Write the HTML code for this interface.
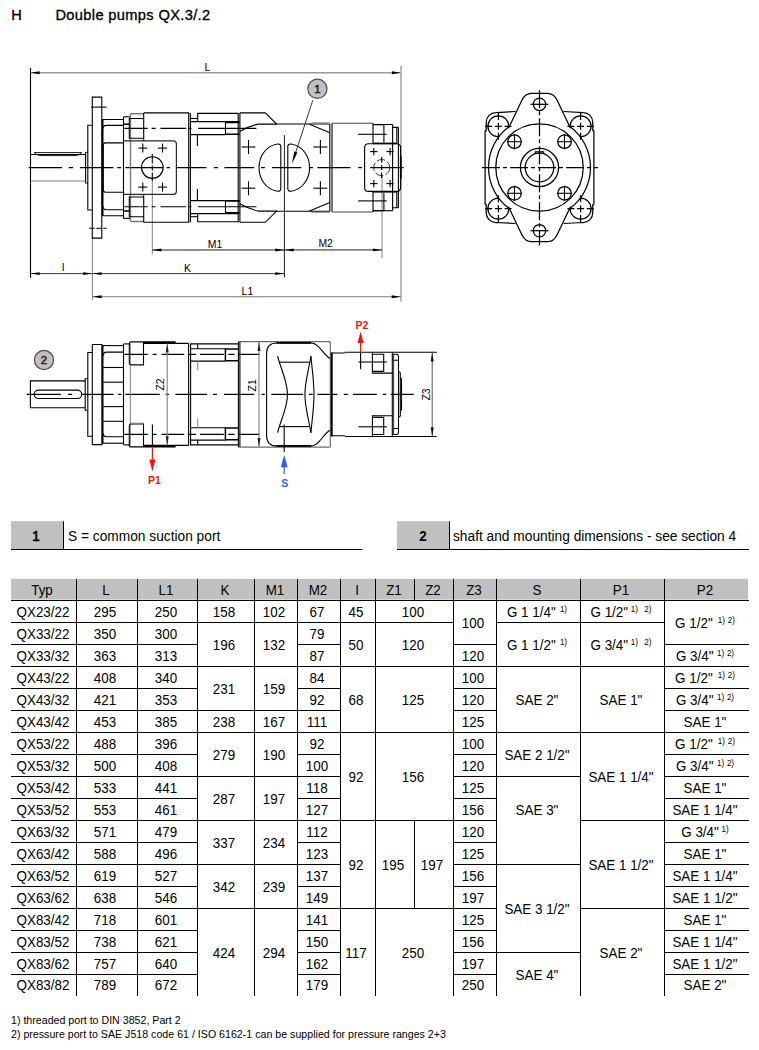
<!DOCTYPE html>
<html lang="en"><head><meta charset="utf-8"><title>Double pumps QX.3/.2</title>
<style>
html,body{margin:0;padding:0;background:#fff}
body{width:759px;height:1050px;position:relative;overflow:hidden;font-family:"Liberation Sans",sans-serif;color:#000}
#pg{position:absolute;left:0;top:0;width:759px;height:1050px}
svg{position:absolute;left:0;top:0}
svg text{font-family:"Liberation Sans",sans-serif}
.c{position:absolute;font-size:14.67px;line-height:16px;height:16px;text-align:center;white-space:nowrap;transform:scaleX(0.915);transform-origin:50% 50%}
.t{position:absolute;font-size:14.67px;line-height:16px;height:16px;white-space:nowrap;transform:scaleX(0.937);transform-origin:0 50%}
.h{transform:none;-webkit-text-stroke:0.32px #000;letter-spacing:0.34px}
.f{position:absolute;font-size:11px;line-height:13px;white-space:nowrap;transform:scaleX(0.967);transform-origin:0 50%}
sup{font-size:8.8px;line-height:0;vertical-align:baseline;position:relative;top:-4.4px}
.s1{margin-left:3px}.s2a{margin-left:7px}
.s1b{margin-left:3.8px}.s2b{margin-left:3px}.s1c{margin-left:5.6px}.s1s{margin-left:4.6px}
b{font-weight:bold}
.fb{-webkit-text-stroke:0.7px #000}
</style></head><body><div id="pg">
<svg width="759" height="1050" viewBox="0 0 759 1050" fill="none" stroke-linecap="butt">
<g id="topview">
<path d="M30.50 67.90L30.50 277.70" stroke="#000" stroke-width="1.1"/>
<path d="M401.00 66.00L401.00 301.60" stroke="#808080" stroke-width="1.1"/>
<path d="M31.00 72.80L400.50 72.80" stroke="#9a9a9a" stroke-width="1.4"/>
<path d="M30.60 72.80L39.60 71.35L39.60 74.25Z" fill="#000" stroke="none"/>
<path d="M400.90 72.80L391.90 74.25L391.90 71.35Z" fill="#000" stroke="none"/>
<text x="207.50" y="71.00" font-size="10.4" text-anchor="middle" fill="#000" font-weight="normal" stroke="none">L</text>
<path d="M152.30 178.40L152.30 254.30" stroke="#808080" stroke-width="1"/>
<path d="M382.00 176.00L382.00 257.90" stroke="#808080" stroke-width="1"/>
<path d="M284.40 135.00L284.40 277.70" stroke="#000" stroke-width="0.9"/>
<path d="M152.30 250.00L382.00 249.90" stroke="#222" stroke-width="1"/>
<path d="M152.40 250.00L161.40 248.55L161.40 251.45Z" fill="#000" stroke="none"/>
<path d="M284.20 250.00L275.20 251.45L275.20 248.55Z" fill="#000" stroke="none"/>
<path d="M284.60 250.00L293.60 248.55L293.60 251.45Z" fill="#000" stroke="none"/>
<path d="M381.90 249.90L372.90 251.35L372.90 248.45Z" fill="#000" stroke="none"/>
<text x="215.00" y="247.60" font-size="10.4" text-anchor="middle" fill="#000" font-weight="normal" stroke="none">M1</text>
<text x="325.60" y="246.80" font-size="10.4" text-anchor="middle" fill="#000" font-weight="normal" stroke="none">M2</text>
<path d="M30.50 273.60L284.40 273.60" stroke="#222" stroke-width="0.9"/>
<path d="M30.70 273.60L39.70 272.15L39.70 275.05Z" fill="#000" stroke="none"/>
<path d="M92.10 273.60L83.10 275.05L83.10 272.15Z" fill="#000" stroke="none"/>
<path d="M92.70 273.60L101.70 272.15L101.70 275.05Z" fill="#000" stroke="none"/>
<path d="M284.20 273.60L275.20 275.05L275.20 272.15Z" fill="#000" stroke="none"/>
<text x="63.20" y="271.30" font-size="10.4" text-anchor="middle" fill="#000" font-weight="normal" stroke="none">I</text>
<text x="187.40" y="271.50" font-size="10.4" text-anchor="middle" fill="#000" font-weight="normal" stroke="none">K</text>
<path d="M92.40 238.00L92.40 300.30" stroke="#808080" stroke-width="1"/>
<path d="M92.40 296.70L400.80 296.70" stroke="#777" stroke-width="1.1"/>
<path d="M92.60 296.70L101.60 295.25L101.60 298.15Z" fill="#000" stroke="none"/>
<path d="M400.70 296.70L391.70 298.15L391.70 295.25Z" fill="#000" stroke="none"/>
<text x="247.40" y="294.50" font-size="10.4" text-anchor="middle" fill="#000" font-weight="normal" stroke="none">L1</text>
<path d="M28.6 167.6H62 M68.8 167.6H73.1 M79.9 167.6H113.3 M117.3 167.6H121 M125.3 167.6H163.7 M166.6 167.6H170 M176.5 167.6H206.5 M213.8 167.6H218 M224.4 167.6H254.2 M261 167.6H264.9 M272.2 167.6H301.3 M308.8 167.6H313 M317.3 167.6H350.5 M358.2 167.6H362 M370.2 167.6H403.6" stroke="#000" stroke-width="1.1" fill="none"/>
<path d="M30.5 154.5H85.6" stroke="#000" stroke-width="1.1" fill="none"/>
<path d="M30.5 181H85.6" stroke="#808080" stroke-width="1.2" fill="none"/>
<path d="M34.2 152.6H81.7 M34.2 152.6Q36.5 155.6 41 155.6H75Q79.5 155.6 81.7 152.6" stroke="#000" stroke-width="0.9" fill="none"/>
<path d="M85.6 152.3V183.2" stroke="#000" stroke-width="1.1" fill="none"/>
<path d="M85.6 152.3H87.7 M85.6 183.2H87.7" stroke="#000" stroke-width="0.8" fill="none"/>
<path d="M92.3 125.3H87.8V210H92.3" stroke="#000" stroke-width="1.1" fill="none"/>
<path d="M92.3 97.1H101.8V238.1H92.3Z" stroke="#000" stroke-width="1.1" fill="none"/>
<path d="M91.00 107.10L106.60 107.10" stroke="#000" stroke-width="1.1"/>
<path d="M89.30 228.20L106.60 228.20" stroke="#000" stroke-width="1.1" stroke-dasharray="5.5 1.5"/>
<path d="M102.60 119.30L102.60 216.00" stroke="#000" stroke-width="1.8"/>
<path d="M103 119.5H123.5 M103 215.7H123.5" stroke="#000" stroke-width="1.1" fill="none"/>
<path d="M123.5 125.4H106Q103.2 125.4 103.2 128.6 M123.5 209.8H106Q103.2 209.8 103.2 206.6" stroke="#000" stroke-width="1.1" fill="none"/>
<path d="M123.5 142.9H105.6Q103.2 142.9 103.2 145.6V189.6Q103.2 192.3 105.6 192.3H123.5" stroke="#000" stroke-width="1.1" fill="none"/>
<path d="M123.50 116.80L123.50 218.40" stroke="#000" stroke-width="1.1"/>
<path d="M123.50 124.20L129.50 124.20" stroke="#000" stroke-width="1.5"/>
<path d="M123.50 211.00L129.50 211.00" stroke="#000" stroke-width="1.5"/>
<path d="M123.50 116.80L130.00 116.80" stroke="#000" stroke-width="1.1"/>
<path d="M123.50 218.40L130.00 218.40" stroke="#000" stroke-width="1.1"/>
<path d="M130.50 113.70L130.50 221.50" stroke="#777" stroke-width="1.4"/>
<path d="M130.50 113.70L143.70 113.70" stroke="#777" stroke-width="1.5"/>
<path d="M130.50 221.50L143.70 221.50" stroke="#777" stroke-width="1.5"/>
<path d="M143.7 118.5H129.3V138.2H143.7" stroke="#000" stroke-width="1.1" fill="none"/>
<path d="M143.7 216.7H129.3V197.0H143.7" stroke="#000" stroke-width="1.1" fill="none"/>
<path d="M143.70 112.90L189.10 112.90" stroke="#000" stroke-width="1.1"/>
<path d="M143.70 222.30L189.10 222.30" stroke="#000" stroke-width="1.1"/>
<path d="M143.70 112.90L143.70 140.90" stroke="#000" stroke-width="1.1"/>
<path d="M143.70 222.30L143.70 194.30" stroke="#000" stroke-width="1.1"/>
<path d="M123.5 140.9H173.4Q176.4 140.9 176.4 143.9V191.3Q176.4 194.3 173.4 194.3H123.5" stroke="#2a2a2a" stroke-width="1.2" fill="none"/>
<circle cx="152.30" cy="167.60" r="10.80" stroke="#000" stroke-width="1.1" fill="none"/>
<path d="M138.30 148.10L147.30 148.10" stroke="#000" stroke-width="1.1"/>
<path d="M142.80 143.60L142.80 152.60" stroke="#000" stroke-width="1.1"/>
<path d="M138.30 187.10L147.30 187.10" stroke="#000" stroke-width="1.1"/>
<path d="M142.80 182.60L142.80 191.60" stroke="#000" stroke-width="1.1"/>
<path d="M158.00 148.10L167.00 148.10" stroke="#000" stroke-width="1.1"/>
<path d="M162.50 143.60L162.50 152.60" stroke="#000" stroke-width="1.1"/>
<path d="M158.00 187.10L167.00 187.10" stroke="#000" stroke-width="1.1"/>
<path d="M162.50 182.60L162.50 191.60" stroke="#000" stroke-width="1.1"/>
<path d="M152.30 154.10L152.30 181.10" stroke="#000" stroke-width="1.1" stroke-dasharray="9.5 2 5 2 9"/>
<path d="M124.3 128.4H147.7 M151.6 128.4H155.6 M160.5 128.4H186.2 M189 128.4H191.5 M198 128.4H256.4" stroke="#000" stroke-width="1.1" fill="none"/>
<path d="M124.3 206.8H147.7 M151.6 206.8H155.6 M160.5 206.8H186.2 M189 206.8H191.5 M198 206.8H256.4" stroke="#000" stroke-width="1.1" fill="none"/>
<path d="M188.70 112.90L188.70 222.30" stroke="#000" stroke-width="1.1"/>
<path d="M190.40 112.90L190.40 222.30" stroke="#000" stroke-width="1.1"/>
<path d="M197.7 121.3V113.4H238.2" stroke="#000" stroke-width="1.1" fill="none"/>
<path d="M190.4 118.5H197.7" stroke="#000" stroke-width="1.1" fill="none"/>
<path d="M190.4 121.6H238.2 M190.4 134.6H225.5 M225.5 121.6V134.6" stroke="#000" stroke-width="1.1" fill="none"/>
<path d="M225.5 122.4H239.8 M225.5 134.3H239.8" stroke="#000" stroke-width="1.6" fill="none"/>
<path d="M197.40 134.60L197.40 146.10" stroke="#000" stroke-width="1.1"/>
<path d="M197.7 213.9V221.8H238.2" stroke="#000" stroke-width="1.1" fill="none"/>
<path d="M190.4 216.7H197.7" stroke="#000" stroke-width="1.1" fill="none"/>
<path d="M190.4 213.6H238.2 M190.4 200.6H225.5 M225.5 213.6V200.6" stroke="#000" stroke-width="1.1" fill="none"/>
<path d="M225.5 212.8H239.8 M225.5 200.9H239.8" stroke="#000" stroke-width="1.6" fill="none"/>
<path d="M197.40 200.60L197.40 189.10" stroke="#000" stroke-width="1.1"/>
<path d="M238.20 112.90L238.20 222.30" stroke="#000" stroke-width="1.1"/>
<path d="M239.90 112.90L239.90 222.30" stroke="#000" stroke-width="1.1"/>
<path d="M239.8 112.9H265.4L276.4 124.0H329.8" stroke="#000" stroke-width="1.1" fill="none"/>
<path d="M239.8 131.4Q249 126.1 258.5 124.1H277" stroke="#000" stroke-width="1.1" fill="none"/>
<path d="M309.5 124.3L329.8 132.7" stroke="#000" stroke-width="1.1" fill="none"/>
<path d="M311.4 122.9H329.8" stroke="#808080" stroke-width="1" fill="none"/>
<path d="M241.50 147.00L255.50 147.00" stroke="#000" stroke-width="1.1"/>
<path d="M248.50 140.00L248.50 154.00" stroke="#000" stroke-width="1.1"/>
<path d="M313.40 147.00L327.40 147.00" stroke="#000" stroke-width="1.1"/>
<path d="M320.40 140.00L320.40 154.00" stroke="#000" stroke-width="1.1"/>
<path d="M239.8 222.3H265.4L276.4 211.2H329.8" stroke="#000" stroke-width="1.1" fill="none"/>
<path d="M239.8 203.8Q249 209.1 258.5 211.1H277" stroke="#000" stroke-width="1.1" fill="none"/>
<path d="M309.5 210.9L329.8 202.5" stroke="#000" stroke-width="1.1" fill="none"/>
<path d="M311.4 212.3H329.8" stroke="#808080" stroke-width="1" fill="none"/>
<path d="M241.50 188.20L255.50 188.20" stroke="#000" stroke-width="1.1"/>
<path d="M248.50 181.20L248.50 195.20" stroke="#000" stroke-width="1.1"/>
<path d="M313.40 188.20L327.40 188.20" stroke="#000" stroke-width="1.1"/>
<path d="M320.40 181.20L320.40 195.20" stroke="#000" stroke-width="1.1"/>
<path d="M280.8 146.6Q280.8 143.6 277.3 144.0C265.5 146.1 259 156.6 259 167.6C259 178.6 265.5 189.1 277.3 191.2Q280.8 191.6 280.8 188.6Z" stroke="#000" stroke-width="1.1" fill="none"/>
<path d="M287.8 146.6Q287.8 143.6 291.3 144.0C303.1 146.1 309.6 156.6 309.6 167.6C309.6 178.6 303.1 189.1 291.3 191.2Q287.8 191.6 287.8 188.6Z" stroke="#000" stroke-width="1.1" fill="none"/>
<path d="M329.80 124.00L329.80 211.20" stroke="#000" stroke-width="1.1"/>
<path d="M332.00 123.20L332.00 212.00" stroke="#000" stroke-width="1.1"/>
<path d="M332.00 123.20L373.00 123.20" stroke="#444" stroke-width="1.1"/>
<path d="M332.00 212.00L373.00 212.00" stroke="#444" stroke-width="1.1"/>
<path d="M373 124.6H383.9V142.2 M373 123.2V143.6" stroke="#000" stroke-width="1.1" fill="none"/>
<path d="M358.10 134.30L386.80 134.30" stroke="#000" stroke-width="1.1"/>
<path d="M373 124.5H392.6" stroke="#000" stroke-width="1.1" fill="none"/>
<path d="M392.6 127.4H398.4 M396.8 127.4V143.6" stroke="#000" stroke-width="1.1" fill="none"/>
<path d="M373 210.6H383.9V193.0 M373 212.0V191.6" stroke="#000" stroke-width="1.1" fill="none"/>
<path d="M358.10 200.90L386.80 200.90" stroke="#000" stroke-width="1.1"/>
<path d="M373 210.7H392.6" stroke="#000" stroke-width="1.1" fill="none"/>
<path d="M392.6 207.8H398.4 M396.8 207.8V191.6" stroke="#000" stroke-width="1.1" fill="none"/>
<path d="M392.60 124.50L392.60 210.70" stroke="#000" stroke-width="1.1"/>
<path d="M398.40 127.40L398.40 207.80" stroke="#000" stroke-width="1.1"/>
<path d="M368.6 143.8H396.6Q400.6 143.8 400.6 147.8V187.4Q400.6 191.4 396.6 191.4H368.6Q364.6 191.4 364.6 187.4V147.8Q364.6 143.8 368.6 143.8Z" stroke="#000" stroke-width="1.1" fill="none"/>
<path d="M373.00 143.40L397.00 143.40" stroke="#000" stroke-width="1.6"/>
<path d="M373.00 191.80L397.00 191.80" stroke="#000" stroke-width="1.6"/>
<path d="M400.80 156.40L400.80 178.80" stroke="#000" stroke-width="1.8"/>
<path d="M370.10 151.60L377.50 151.60" stroke="#000" stroke-width="1.1"/>
<path d="M373.80 147.90L373.80 155.30" stroke="#000" stroke-width="1.1"/>
<path d="M370.10 183.60L377.50 183.60" stroke="#000" stroke-width="1.1"/>
<path d="M373.80 179.90L373.80 187.30" stroke="#000" stroke-width="1.1"/>
<path d="M386.40 151.60L393.80 151.60" stroke="#000" stroke-width="1.1"/>
<path d="M390.10 147.90L390.10 155.30" stroke="#000" stroke-width="1.1"/>
<path d="M386.40 183.60L393.80 183.60" stroke="#000" stroke-width="1.1"/>
<path d="M390.10 179.90L390.10 187.30" stroke="#000" stroke-width="1.1"/>
<circle cx="381.70" cy="167.60" r="8.05" stroke="#3a3a3a" stroke-width="1" fill="none" stroke-dasharray="8.5 2.4"/>
<path d="M381.70 157.10L381.70 178.10" stroke="#000" stroke-width="1.1" stroke-dasharray="5.7 2.3 5 2.3 5.7"/>
<circle cx="317.40" cy="88.80" r="9.60" stroke="#4d4d4d" stroke-width="1.2" fill="#c0c0c0"/>
<text x="317.40" y="92.90" font-size="11.5" text-anchor="middle" fill="#1a1a1a" font-weight="normal" stroke="#1a1a1a" stroke-width="0.45">1</text>
<path d="M312.80 100.20L294.50 156.00" stroke="#222" stroke-width="0.9"/>
<path d="M291.80 164.30L294.33 151.45L297.37 152.44Z" fill="#000" stroke="none"/>
</g>
<g id="endview">
<path d="M482.00 167.50L598.00 167.50" stroke="#000" stroke-width="1.25" stroke-dasharray="18 3 4 3"/>
<path d="M539.50 90.30L539.50 245.60" stroke="#000" stroke-width="1.25" stroke-dasharray="18 3 4 3"/>
<circle cx="539.50" cy="167.50" r="43.70" stroke="#000" stroke-width="1.25" fill="none"/>
<circle cx="539.50" cy="167.50" r="19.10" stroke="#000" stroke-width="1.25" fill="none"/>
<circle cx="539.50" cy="167.50" r="14.30" stroke="#000" stroke-width="1.25" fill="none"/>
<path d="M535.4 154V151.9H543.6V154" stroke="#000" stroke-width="1.25" fill="none"/>
<path d="M508.81 126.77A51 51 0 0 0 508.81 208.23" stroke="#000" stroke-width="1.25" fill="none"/>
<path d="M570.19 208.23A51 51 0 0 0 570.19 126.77" stroke="#000" stroke-width="1.25" fill="none"/>
<path d="M508.5 128.3L522.0 100.0Q525.3 93.3 531.5 93.3H547.5Q553.7 93.3 557.0 100.0L570.5 128.3" stroke="#000" stroke-width="1.25" fill="none"/>
<circle cx="539.50" cy="104.30" r="6.20" stroke="#000" stroke-width="1.25" fill="none"/>
<path d="M530.50 104.30L548.50 104.30" stroke="#000" stroke-width="1.25"/>
<path d="M515.5 111.5L495.8 112.5C490.5 112.5 486.2 117.0 486.2 122.4V130.5H485.1" stroke="#000" stroke-width="1.25" fill="none"/>
<path d="M498.21 136.85A10.5 10.5 0 1 1 508.90 126.17" stroke="#000" stroke-width="1.25" fill="none"/>
<path d="M485.20 126.35L511.60 126.35" stroke="#000" stroke-width="1.25" stroke-dasharray="7 2.7"/>
<path d="M498.40 112.95L498.40 139.75" stroke="#000" stroke-width="1.25" stroke-dasharray="7 2.9"/>
<circle cx="514.50" cy="141.70" r="6.75" stroke="#000" stroke-width="1.25" fill="none"/>
<path d="M506.90 141.70L522.10 141.70" stroke="#000" stroke-width="1.1"/>
<path d="M514.50 134.10L514.50 149.30" stroke="#000" stroke-width="1.1"/>
<path d="M563.5 111.5L583.2 112.5C588.5 112.5 592.8 117.0 592.8 122.4V130.5H593.9" stroke="#000" stroke-width="1.25" fill="none"/>
<path d="M570.10 126.17A10.5 10.5 0 1 1 580.79 136.85" stroke="#000" stroke-width="1.25" fill="none"/>
<path d="M567.40 126.35L593.80 126.35" stroke="#000" stroke-width="1.25" stroke-dasharray="7 2.7"/>
<path d="M580.60 112.95L580.60 139.75" stroke="#000" stroke-width="1.25" stroke-dasharray="7 2.9"/>
<circle cx="564.50" cy="141.70" r="6.75" stroke="#000" stroke-width="1.25" fill="none"/>
<path d="M556.90 141.70L572.10 141.70" stroke="#000" stroke-width="1.1"/>
<path d="M564.50 134.10L564.50 149.30" stroke="#000" stroke-width="1.1"/>
<path d="M508.5 206.7L522.0 235.0Q525.3 241.7 531.5 241.7H547.5Q553.7 241.7 557.0 235.0L570.5 206.7" stroke="#000" stroke-width="1.25" fill="none"/>
<circle cx="539.50" cy="230.70" r="6.20" stroke="#000" stroke-width="1.25" fill="none"/>
<path d="M530.50 230.70L548.50 230.70" stroke="#000" stroke-width="1.25"/>
<path d="M515.5 223.5L495.8 222.5C490.5 222.5 486.2 218.0 486.2 212.6V204.5H485.1" stroke="#000" stroke-width="1.25" fill="none"/>
<path d="M508.90 208.83A10.5 10.5 0 1 1 498.21 198.15" stroke="#000" stroke-width="1.25" fill="none"/>
<path d="M485.20 208.65L511.60 208.65" stroke="#000" stroke-width="1.25" stroke-dasharray="7 2.7"/>
<path d="M498.40 195.25L498.40 222.05" stroke="#000" stroke-width="1.25" stroke-dasharray="7 2.9"/>
<circle cx="514.50" cy="193.30" r="6.75" stroke="#000" stroke-width="1.25" fill="none"/>
<path d="M506.90 193.30L522.10 193.30" stroke="#000" stroke-width="1.1"/>
<path d="M514.50 185.70L514.50 200.90" stroke="#000" stroke-width="1.1"/>
<path d="M563.5 223.5L583.2 222.5C588.5 222.5 592.8 218.0 592.8 212.6V204.5H593.9" stroke="#000" stroke-width="1.25" fill="none"/>
<path d="M580.79 198.15A10.5 10.5 0 1 1 570.10 208.83" stroke="#000" stroke-width="1.25" fill="none"/>
<path d="M567.40 208.65L593.80 208.65" stroke="#000" stroke-width="1.25" stroke-dasharray="7 2.7"/>
<path d="M580.60 195.25L580.60 222.05" stroke="#000" stroke-width="1.25" stroke-dasharray="7 2.9"/>
<circle cx="564.50" cy="193.30" r="6.75" stroke="#000" stroke-width="1.25" fill="none"/>
<path d="M556.90 193.30L572.10 193.30" stroke="#000" stroke-width="1.1"/>
<path d="M564.50 185.70L564.50 200.90" stroke="#000" stroke-width="1.1"/>
<path d="M485.10 130.50L485.10 204.50" stroke="#000" stroke-width="1.25"/>
<path d="M593.90 130.50L593.90 204.50" stroke="#000" stroke-width="1.25"/>
</g>
<g id="sideview">
<path d="M26.6 394.4H60.8 M68 394.4H72.2 M81.9 394.4H113.5 M118 394.4H121.4 M125.4 394.4H159.7 M165.7 394.4H168.9 M175.5 394.4H207 M213 394.4H217 M224 394.4H254.3 M261.6 394.4H264.8 M271.4 394.4H303 M309 394.4H312.8 M317.5 394.4H337.3 M343.8 394.4H347.8 M353 394.4H376.8 M382.6 394.4H386 M390.7 394.4H413.7" stroke="#000" stroke-width="1.1" fill="none"/>
<circle cx="44.00" cy="360.00" r="9.60" stroke="#4d4d4d" stroke-width="1.2" fill="#c0c0c0"/>
<text x="44.00" y="364.20" font-size="11.5" text-anchor="middle" fill="#1a1a1a" font-weight="normal" stroke="#1a1a1a" stroke-width="0.45">2</text>
<path d="M85.1 380.9H30.4V407.8H85.1" stroke="#000" stroke-width="1.1" fill="none"/>
<path d="M38.4 390.1H77.5A4.2 4.2 0 0 1 77.5 398.5H38.4A4.2 4.2 0 0 1 38.4 390.1Z" stroke="#000" stroke-width="1.1" fill="none"/>
<path d="M87.2 378.7H85.2V410.3H87.2" stroke="#000" stroke-width="1.1" fill="none"/>
<path d="M92.3 352.5H87.8V436.2H92.3" stroke="#000" stroke-width="1.1" fill="none"/>
<path d="M92.3 344.5H101.9V444.6H92.3Z" stroke="#000" stroke-width="1.1" fill="none"/>
<path d="M102.70 345.00L102.70 443.60" stroke="#000" stroke-width="1.6"/>
<path d="M103.00 345.60L123.60 345.60" stroke="#000" stroke-width="1.1"/>
<path d="M103.00 443.20L123.60 443.20" stroke="#000" stroke-width="1.1"/>
<path d="M123.6 352.1H106.5Q103.4 352.1 103.4 355.4" stroke="#000" stroke-width="1.1" fill="none"/>
<path d="M123.6 436.7H106.5Q103.4 436.7 103.4 433.4" stroke="#000" stroke-width="1.1" fill="none"/>
<path d="M103.00 367.50L123.60 367.50" stroke="#000" stroke-width="1.1"/>
<path d="M103.00 421.30L123.60 421.30" stroke="#000" stroke-width="1.1"/>
<path d="M103.00 382.20L123.60 382.20" stroke="#000" stroke-width="1.1"/>
<path d="M103.00 406.60L123.60 406.60" stroke="#000" stroke-width="1.1"/>
<path d="M123.50 343.90L123.50 444.90" stroke="#000" stroke-width="1.1"/>
<path d="M123.50 343.90L130.00 343.90" stroke="#000" stroke-width="1.1"/>
<path d="M123.50 444.90L130.00 444.90" stroke="#000" stroke-width="1.1"/>
<path d="M130.30 343.90L130.30 444.90" stroke="#808080" stroke-width="1"/>
<path d="M143.5 364.8H131Q129.3 364.8 129.3 362.9V343.9Q129.3 341.9 131.3 341.9H143.5" stroke="#000" stroke-width="1.1" fill="none"/>
<path d="M143.5 424.0H131Q129.3 424.0 129.3 425.9V444.9Q129.3 446.9 131.3 446.9H143.5" stroke="#000" stroke-width="1.1" fill="none"/>
<path d="M131.00 365.60L143.50 365.60" stroke="#808080" stroke-width="1"/>
<path d="M131.00 423.20L143.50 423.20" stroke="#808080" stroke-width="1"/>
<path d="M143.50 341.90L143.50 365.20" stroke="#000" stroke-width="1.1"/>
<path d="M143.50 446.90L143.50 423.60" stroke="#000" stroke-width="1.1"/>
<path d="M143.50 343.40L188.60 343.40" stroke="#000" stroke-width="1.1"/>
<path d="M143.50 445.40L188.60 445.40" stroke="#000" stroke-width="1.1"/>
<path d="M143.20 342.10L175.60 342.10" stroke="#000" stroke-width="1.6"/>
<path d="M143.20 446.70L175.60 446.70" stroke="#000" stroke-width="1.6"/>
<path d="M124.3 354.4H147.7 M152.6 354.4H156.6 M161.5 354.4H184.2 M188.2 354.4H196 M200 354.4H223.8 M228.3 354.4H234.6 M238.6 354.4H259.5" stroke="#000" stroke-width="1.1" fill="none"/>
<path d="M124.3 434.4H147.7 M152.6 434.4H156.6 M161.5 434.4H184.2 M188.2 434.4H196 M200 434.4H223.8 M228.3 434.4H234.6 M238.6 434.4H259.5" stroke="#000" stroke-width="1.1" fill="none"/>
<path d="M167.20 343.40L167.20 445.40" stroke="#808080" stroke-width="1.1"/>
<path d="M167.20 343.60L168.70 352.60L165.70 352.60Z" fill="#222" stroke="none"/>
<path d="M167.20 445.20L165.70 436.20L168.70 436.20Z" fill="#222" stroke="none"/>
<text x="163.90" y="384.50" font-size="10.4" text-anchor="middle" fill="#000" font-weight="normal" stroke="none" transform="rotate(-90 163.90 384.50)">Z2</text>
<path d="M188.60 343.40L188.60 445.40" stroke="#000" stroke-width="1.1"/>
<path d="M190.60 343.40L190.60 445.40" stroke="#000" stroke-width="1.1"/>
<path d="M190.60 343.90L238.50 343.90" stroke="#000" stroke-width="1.1"/>
<path d="M190.60 444.90L238.50 444.90" stroke="#000" stroke-width="1.1"/>
<path d="M190.6 348.7H225.4 M190.6 361.1H225.4" stroke="#000" stroke-width="1.1" fill="none"/>
<path d="M190.6 440.1H225.4 M190.6 427.7H225.4" stroke="#000" stroke-width="1.1" fill="none"/>
<path d="M238.5 349.0H225.4V360.8H238.5" stroke="#000" stroke-width="1.5" fill="none"/>
<path d="M238.5 439.8H225.4V428.0H238.5" stroke="#000" stroke-width="1.5" fill="none"/>
<path d="M197.70 344.20L197.70 348.70" stroke="#000" stroke-width="1.1"/>
<path d="M197.70 444.60L197.70 440.10" stroke="#000" stroke-width="1.1"/>
<path d="M197.70 361.10L197.70 370.30" stroke="#808080" stroke-width="1"/>
<path d="M197.70 427.70L197.70 418.50" stroke="#808080" stroke-width="1"/>
<path d="M238.40 341.70L238.40 447.10" stroke="#000" stroke-width="1.1"/>
<path d="M239.90 341.70L239.90 447.10" stroke="#000" stroke-width="1.1"/>
<path d="M238.50 341.70L330.30 341.70" stroke="#444" stroke-width="1"/>
<path d="M238.50 447.10L330.30 447.10" stroke="#444" stroke-width="1"/>
<path d="M330.30 341.90L330.30 446.90" stroke="#666" stroke-width="1.1"/>
<path d="M259.00 341.70L259.00 447.10" stroke="#808080" stroke-width="1.1"/>
<path d="M259.00 341.90L260.50 350.90L257.50 350.90Z" fill="#222" stroke="none"/>
<path d="M259.00 446.90L257.50 437.90L260.50 437.90Z" fill="#222" stroke="none"/>
<text x="256.00" y="385.30" font-size="10.4" text-anchor="middle" fill="#000" font-weight="normal" stroke="none" transform="rotate(-90 256.00 385.30)">Z1</text>
<path d="M329.9 358.5C322 353.4 319 343.0 311.2 343.0H277Q266.6 343.0 266.6 353.4V435.4Q266.6 446.0 277 446.0H311.2C319 446.0 322 435.4 329.9 430.3" stroke="#000" stroke-width="1.1" fill="none"/>
<path d="M276.40 342.90L311.20 342.90" stroke="#000" stroke-width="1.6"/>
<path d="M276.40 445.90L311.20 445.90" stroke="#000" stroke-width="1.6"/>
<path d="M279.60 362.20L309.30 362.20" stroke="#000" stroke-width="1.1"/>
<path d="M279.60 426.60L309.30 426.60" stroke="#000" stroke-width="1.1"/>
<path d="M277.7 356.1C279 364.4 287.5 380.4 287.5 394.4C287.5 408.4 279 424.4 277.7 432.7" stroke="#000" stroke-width="1.1" fill="none"/>
<path d="M310.9 356.1C310 364.4 304.9 380.4 304.9 394.4C304.9 408.4 310 424.4 310.9 432.7" stroke="#000" stroke-width="1.1" fill="none"/>
<path d="M310.9 356.1C311.5 364.4 314 380.4 314 394.4C314 408.4 311.5 424.4 310.9 432.7" stroke="#000" stroke-width="1.1" fill="none"/>
<path d="M331.70 352.40L331.70 436.40" stroke="#000" stroke-width="2"/>
<path d="M332 353.0H344.8 M344.8 352.3H436.8" stroke="#000" stroke-width="1.1" fill="none"/>
<path d="M332 435.8H344.8 M344.8 436.5H436.8" stroke="#000" stroke-width="1.1" fill="none"/>
<path d="M392.30 352.50L392.30 436.30" stroke="#000" stroke-width="1.1"/>
<path d="M372.4 352.5V373.1H392.3 M372.9 354.3H383.7V371.4H372.9" stroke="#000" stroke-width="1.1" fill="none"/>
<path d="M372.4 436.3V415.7H392.3 M372.9 434.5H383.7V417.4H372.9" stroke="#000" stroke-width="1.1" fill="none"/>
<path d="M358.50 362.00L386.80 362.00" stroke="#000" stroke-width="1.1"/>
<path d="M358.50 426.80L386.80 426.80" stroke="#000" stroke-width="1.1"/>
<path d="M392.3 354.3H397.3L398.5 355.6 M393.6 360.3H398.5" stroke="#000" stroke-width="1.1" fill="none"/>
<path d="M392.3 434.5H397.3L398.5 433.2 M393.6 428.5H398.5" stroke="#000" stroke-width="1.1" fill="none"/>
<path d="M398.50 355.60L398.50 433.20" stroke="#000" stroke-width="1.1"/>
<path d="M393.60 354.40L393.60 434.40" stroke="#000" stroke-width="0.8"/>
<path d="M398.5 371.4L400.3 372.9V415.9L398.5 417.4" stroke="#000" stroke-width="1.1" fill="none"/>
<path d="M401.50 378.20L401.50 410.60" stroke="#000" stroke-width="1.1"/>
<path d="M432.20 352.40L432.20 436.40" stroke="#555" stroke-width="1"/>
<path d="M432.20 352.50L433.70 361.50L430.70 361.50Z" fill="#111" stroke="none"/>
<path d="M432.20 436.30L430.70 427.30L433.70 427.30Z" fill="#111" stroke="none"/>
<text x="430.10" y="394.50" font-size="10.4" text-anchor="middle" fill="#000" font-weight="normal" stroke="none" transform="rotate(-90 430.10 394.50)">Z3</text>
<path d="M360.60 352.50L360.60 369.30" stroke="#000" stroke-width="1.1"/>
<path d="M360.60 342.00L360.60 352.50" stroke="#ff1010" stroke-width="1.2"/>
<path d="M360.60 331.40L363.70 343.00L357.50 343.00Z" fill="#ff1010" stroke="none"/>
<text x="362.00" y="328.70" font-size="10.5" text-anchor="middle" fill="#ff1010" font-weight="bold" stroke="none">P2</text>
<path d="M152.40 424.40L152.40 446.80" stroke="#000" stroke-width="1.1"/>
<path d="M152.40 446.80L152.40 460.50" stroke="#ff1010" stroke-width="1.2"/>
<path d="M152.40 471.60L149.30 459.60L155.50 459.60Z" fill="#ff1010" stroke="none"/>
<text x="154.30" y="484.10" font-size="10.5" text-anchor="middle" fill="#ff1010" font-weight="bold" stroke="none">P1</text>
<path d="M284.20 424.40L284.20 451.90" stroke="#000" stroke-width="1.1"/>
<path d="M284.20 454.80L287.60 467.30L280.80 467.30Z" fill="#2b5cff" stroke="none"/>
<path d="M284.20 466.00L284.20 474.00" stroke="#2b5cff" stroke-width="1.2"/>
<text x="284.80" y="487.10" font-size="10.5" text-anchor="middle" fill="#2b5cff" font-weight="bold" stroke="none">S</text>
</g>
<g id="tablelines">
<rect x="11" y="578.8" width="737" height="20.4" fill="#c0c0c0"/>
<rect x="11" y="599.2" width="737" height="0.8" fill="#d4d4d4"/>
<rect x="11" y="521.2" width="52" height="27.8" fill="#c0c0c0"/>
<rect x="397" y="521.2" width="52" height="27.8" fill="#c0c0c0"/>
<path d="M11.00 600.50L197.50 600.50 M297.50 600.50L340.50 600.50 M11.00 622.50L197.50 622.50 M297.50 622.50L340.50 622.50 M11.00 644.50L197.50 644.50 M297.50 644.50L340.50 644.50 M11.00 666.50L197.50 666.50 M297.50 666.50L340.50 666.50 M11.00 688.50L197.50 688.50 M297.50 688.50L340.50 688.50 M11.00 710.50L197.50 710.50 M297.50 710.50L340.50 710.50 M11.00 732.50L197.50 732.50 M297.50 732.50L340.50 732.50 M11.00 754.50L197.50 754.50 M297.50 754.50L340.50 754.50 M11.00 776.50L197.50 776.50 M297.50 776.50L340.50 776.50 M11.00 798.50L197.50 798.50 M297.50 798.50L340.50 798.50 M11.00 820.50L197.50 820.50 M297.50 820.50L340.50 820.50 M11.00 842.50L197.50 842.50 M297.50 842.50L340.50 842.50 M11.00 864.50L197.50 864.50 M297.50 864.50L340.50 864.50 M11.00 886.50L197.50 886.50 M297.50 886.50L340.50 886.50 M11.00 908.50L197.50 908.50 M297.50 908.50L340.50 908.50 M11.00 930.50L197.50 930.50 M297.50 930.50L340.50 930.50 M11.00 952.50L197.50 952.50 M297.50 952.50L340.50 952.50 M11.00 974.50L197.50 974.50 M297.50 974.50L340.50 974.50 M197.50 600.50L297.50 600.50 M197.50 622.50L297.50 622.50 M197.50 666.50L297.50 666.50 M197.50 710.50L297.50 710.50 M197.50 732.50L297.50 732.50 M197.50 776.50L297.50 776.50 M197.50 820.50L297.50 820.50 M197.50 864.50L297.50 864.50 M197.50 908.50L297.50 908.50 M340.50 600.50L453.50 600.50 M580.50 600.50L664.50 600.50 M340.50 622.50L453.50 622.50 M580.50 622.50L664.50 622.50 M340.50 666.50L453.50 666.50 M580.50 666.50L664.50 666.50 M340.50 732.50L453.50 732.50 M580.50 732.50L664.50 732.50 M340.50 820.50L453.50 820.50 M580.50 820.50L664.50 820.50 M340.50 908.50L453.50 908.50 M580.50 908.50L664.50 908.50 M453.50 600.50L496.50 600.50 M664.50 600.50L749.00 600.50 M453.50 644.50L496.50 644.50 M664.50 644.50L749.00 644.50 M453.50 666.50L496.50 666.50 M664.50 666.50L749.00 666.50 M453.50 688.50L496.50 688.50 M664.50 688.50L749.00 688.50 M453.50 710.50L496.50 710.50 M664.50 710.50L749.00 710.50 M453.50 732.50L496.50 732.50 M664.50 732.50L749.00 732.50 M453.50 754.50L496.50 754.50 M664.50 754.50L749.00 754.50 M453.50 776.50L496.50 776.50 M664.50 776.50L749.00 776.50 M453.50 798.50L496.50 798.50 M664.50 798.50L749.00 798.50 M453.50 820.50L496.50 820.50 M664.50 820.50L749.00 820.50 M453.50 842.50L496.50 842.50 M664.50 842.50L749.00 842.50 M453.50 864.50L496.50 864.50 M664.50 864.50L749.00 864.50 M453.50 886.50L496.50 886.50 M664.50 886.50L749.00 886.50 M453.50 908.50L496.50 908.50 M664.50 908.50L749.00 908.50 M453.50 930.50L496.50 930.50 M664.50 930.50L749.00 930.50 M453.50 952.50L496.50 952.50 M664.50 952.50L749.00 952.50 M453.50 974.50L496.50 974.50 M664.50 974.50L749.00 974.50 M496.50 600.50L580.50 600.50 M496.50 622.50L580.50 622.50 M496.50 666.50L580.50 666.50 M496.50 732.50L580.50 732.50 M496.50 776.50L580.50 776.50 M496.50 864.50L580.50 864.50 M496.50 952.50L580.50 952.50 M76.50 579.00L76.50 996.00 M137.50 579.00L137.50 996.00 M197.50 579.00L197.50 996.00 M254.50 579.00L254.50 996.00 M297.50 579.00L297.50 996.00 M340.50 579.00L340.50 996.00 M375.50 579.00L375.50 996.00 M453.50 579.00L453.50 996.00 M496.50 579.00L496.50 996.00 M580.50 579.00L580.50 996.00 M664.50 579.00L664.50 996.00 M414.50 579.00L414.50 600.50 M414.50 820.50L414.50 908.50" stroke="#000" stroke-width="1" fill="none"/>
<path d="M11 549.5H362.5M63.5 521.2V549.5M397 549.5H749M449.5 521.2V549.5" stroke="#000" stroke-width="1"/>
</g>
</svg>
<div class="t h" style="left:11.20px;top:7.02px;">H</div>
<div class="t h" style="left:55.40px;top:7.02px;">Double pumps QX.3/.2</div>
<div class="c" style="left:6.30px;top:528.42px;width:60px"><span class="fb">1</span></div>
<div class="t" style="left:67.80px;top:528.42px;">S = common suction port</div>
<div class="c" style="left:393.30px;top:528.42px;width:60px"><b>2</b></div>
<div class="t" style="left:452.80px;top:528.42px;">shaft and mounting dimensions - see section 4</div>
<div class="c" style="left:-17.65px;top:582.12px;width:120px">Typ</div>
<div class="c" style="left:45.60px;top:582.12px;width:120px">L</div>
<div class="c" style="left:106.10px;top:582.12px;width:120px">L1</div>
<div class="c" style="left:164.60px;top:582.12px;width:120px">K</div>
<div class="c" style="left:214.60px;top:582.12px;width:120px">M1</div>
<div class="c" style="left:257.60px;top:582.12px;width:120px">M2</div>
<div class="c" style="left:296.60px;top:582.12px;width:120px">I</div>
<div class="c" style="left:333.60px;top:582.12px;width:120px">Z1</div>
<div class="c" style="left:372.60px;top:582.12px;width:120px">Z2</div>
<div class="c" style="left:413.60px;top:582.12px;width:120px">Z3</div>
<div class="c" style="left:477.10px;top:582.12px;width:120px">S</div>
<div class="c" style="left:561.10px;top:582.12px;width:120px">P1</div>
<div class="c" style="left:645.35px;top:582.12px;width:120px">P2</div>
<div class="c" style="left:-17.45px;top:603.72px;width:120px">QX23/22</div>
<div class="c" style="left:45.20px;top:603.72px;width:120px">295</div>
<div class="c" style="left:105.70px;top:603.72px;width:120px">250</div>
<div class="c" style="left:257.20px;top:603.72px;width:120px">67</div>
<div class="c" style="left:-17.45px;top:625.72px;width:120px">QX33/22</div>
<div class="c" style="left:45.20px;top:625.72px;width:120px">350</div>
<div class="c" style="left:105.70px;top:625.72px;width:120px">300</div>
<div class="c" style="left:257.20px;top:625.72px;width:120px">79</div>
<div class="c" style="left:-17.45px;top:647.72px;width:120px">QX33/32</div>
<div class="c" style="left:45.20px;top:647.72px;width:120px">363</div>
<div class="c" style="left:105.70px;top:647.72px;width:120px">313</div>
<div class="c" style="left:257.20px;top:647.72px;width:120px">87</div>
<div class="c" style="left:-17.45px;top:669.72px;width:120px">QX43/22</div>
<div class="c" style="left:45.20px;top:669.72px;width:120px">408</div>
<div class="c" style="left:105.70px;top:669.72px;width:120px">340</div>
<div class="c" style="left:257.20px;top:669.72px;width:120px">84</div>
<div class="c" style="left:-17.45px;top:691.72px;width:120px">QX43/32</div>
<div class="c" style="left:45.20px;top:691.72px;width:120px">421</div>
<div class="c" style="left:105.70px;top:691.72px;width:120px">353</div>
<div class="c" style="left:257.20px;top:691.72px;width:120px">92</div>
<div class="c" style="left:-17.45px;top:713.72px;width:120px">QX43/42</div>
<div class="c" style="left:45.20px;top:713.72px;width:120px">453</div>
<div class="c" style="left:105.70px;top:713.72px;width:120px">385</div>
<div class="c" style="left:257.20px;top:713.72px;width:120px">111</div>
<div class="c" style="left:-17.45px;top:735.72px;width:120px">QX53/22</div>
<div class="c" style="left:45.20px;top:735.72px;width:120px">488</div>
<div class="c" style="left:105.70px;top:735.72px;width:120px">396</div>
<div class="c" style="left:257.20px;top:735.72px;width:120px">92</div>
<div class="c" style="left:-17.45px;top:757.72px;width:120px">QX53/32</div>
<div class="c" style="left:45.20px;top:757.72px;width:120px">500</div>
<div class="c" style="left:105.70px;top:757.72px;width:120px">408</div>
<div class="c" style="left:257.20px;top:757.72px;width:120px">100</div>
<div class="c" style="left:-17.45px;top:779.72px;width:120px">QX53/42</div>
<div class="c" style="left:45.20px;top:779.72px;width:120px">533</div>
<div class="c" style="left:105.70px;top:779.72px;width:120px">441</div>
<div class="c" style="left:257.20px;top:779.72px;width:120px">118</div>
<div class="c" style="left:-17.45px;top:801.72px;width:120px">QX53/52</div>
<div class="c" style="left:45.20px;top:801.72px;width:120px">553</div>
<div class="c" style="left:105.70px;top:801.72px;width:120px">461</div>
<div class="c" style="left:257.20px;top:801.72px;width:120px">127</div>
<div class="c" style="left:-17.45px;top:823.72px;width:120px">QX63/32</div>
<div class="c" style="left:45.20px;top:823.72px;width:120px">571</div>
<div class="c" style="left:105.70px;top:823.72px;width:120px">479</div>
<div class="c" style="left:257.20px;top:823.72px;width:120px">112</div>
<div class="c" style="left:-17.45px;top:845.72px;width:120px">QX63/42</div>
<div class="c" style="left:45.20px;top:845.72px;width:120px">588</div>
<div class="c" style="left:105.70px;top:845.72px;width:120px">496</div>
<div class="c" style="left:257.20px;top:845.72px;width:120px">123</div>
<div class="c" style="left:-17.45px;top:867.72px;width:120px">QX63/52</div>
<div class="c" style="left:45.20px;top:867.72px;width:120px">619</div>
<div class="c" style="left:105.70px;top:867.72px;width:120px">527</div>
<div class="c" style="left:257.20px;top:867.72px;width:120px">137</div>
<div class="c" style="left:-17.45px;top:889.72px;width:120px">QX63/62</div>
<div class="c" style="left:45.20px;top:889.72px;width:120px">638</div>
<div class="c" style="left:105.70px;top:889.72px;width:120px">546</div>
<div class="c" style="left:257.20px;top:889.72px;width:120px">149</div>
<div class="c" style="left:-17.45px;top:911.72px;width:120px">QX83/42</div>
<div class="c" style="left:45.20px;top:911.72px;width:120px">718</div>
<div class="c" style="left:105.70px;top:911.72px;width:120px">601</div>
<div class="c" style="left:257.20px;top:911.72px;width:120px">141</div>
<div class="c" style="left:-17.45px;top:933.72px;width:120px">QX83/52</div>
<div class="c" style="left:45.20px;top:933.72px;width:120px">738</div>
<div class="c" style="left:105.70px;top:933.72px;width:120px">621</div>
<div class="c" style="left:257.20px;top:933.72px;width:120px">150</div>
<div class="c" style="left:-17.45px;top:955.72px;width:120px">QX83/62</div>
<div class="c" style="left:45.20px;top:955.72px;width:120px">757</div>
<div class="c" style="left:105.70px;top:955.72px;width:120px">640</div>
<div class="c" style="left:257.20px;top:955.72px;width:120px">162</div>
<div class="c" style="left:-17.45px;top:977.22px;width:120px">QX83/82</div>
<div class="c" style="left:45.20px;top:977.22px;width:120px">789</div>
<div class="c" style="left:105.70px;top:977.22px;width:120px">672</div>
<div class="c" style="left:257.20px;top:977.22px;width:120px">179</div>
<div class="c" style="left:164.20px;top:603.72px;width:120px">158</div>
<div class="c" style="left:214.20px;top:603.72px;width:120px">102</div>
<div class="c" style="left:164.20px;top:636.72px;width:120px">196</div>
<div class="c" style="left:214.20px;top:636.72px;width:120px">132</div>
<div class="c" style="left:164.20px;top:680.72px;width:120px">231</div>
<div class="c" style="left:214.20px;top:680.72px;width:120px">159</div>
<div class="c" style="left:164.20px;top:713.72px;width:120px">238</div>
<div class="c" style="left:214.20px;top:713.72px;width:120px">167</div>
<div class="c" style="left:164.20px;top:746.72px;width:120px">279</div>
<div class="c" style="left:214.20px;top:746.72px;width:120px">190</div>
<div class="c" style="left:164.20px;top:790.72px;width:120px">287</div>
<div class="c" style="left:214.20px;top:790.72px;width:120px">197</div>
<div class="c" style="left:164.20px;top:834.72px;width:120px">337</div>
<div class="c" style="left:214.20px;top:834.72px;width:120px">234</div>
<div class="c" style="left:164.20px;top:878.72px;width:120px">342</div>
<div class="c" style="left:214.20px;top:878.72px;width:120px">239</div>
<div class="c" style="left:164.20px;top:944.72px;width:120px">424</div>
<div class="c" style="left:214.20px;top:944.72px;width:120px">294</div>
<div class="c" style="left:296.20px;top:603.72px;width:120px">45</div>
<div class="c" style="left:352.70px;top:603.72px;width:120px">100</div>
<div class="c" style="left:296.20px;top:636.72px;width:120px">50</div>
<div class="c" style="left:352.70px;top:636.72px;width:120px">120</div>
<div class="c" style="left:296.20px;top:691.72px;width:120px">68</div>
<div class="c" style="left:352.70px;top:691.72px;width:120px">125</div>
<div class="c" style="left:296.20px;top:768.72px;width:120px">92</div>
<div class="c" style="left:352.70px;top:768.72px;width:120px">156</div>
<div class="c" style="left:296.20px;top:856.72px;width:120px">92</div>
<div class="c" style="left:296.20px;top:944.72px;width:120px">117</div>
<div class="c" style="left:352.70px;top:944.72px;width:120px">250</div>
<div class="c" style="left:333.20px;top:856.72px;width:120px">195</div>
<div class="c" style="left:372.20px;top:856.72px;width:120px">197</div>
<div class="c" style="left:413.20px;top:614.72px;width:120px">100</div>
<div class="c" style="left:413.20px;top:647.72px;width:120px">120</div>
<div class="c" style="left:413.20px;top:669.72px;width:120px">100</div>
<div class="c" style="left:413.20px;top:691.72px;width:120px">120</div>
<div class="c" style="left:413.20px;top:713.72px;width:120px">125</div>
<div class="c" style="left:413.20px;top:735.72px;width:120px">100</div>
<div class="c" style="left:413.20px;top:757.72px;width:120px">120</div>
<div class="c" style="left:413.20px;top:779.72px;width:120px">125</div>
<div class="c" style="left:413.20px;top:801.72px;width:120px">156</div>
<div class="c" style="left:413.20px;top:823.72px;width:120px">120</div>
<div class="c" style="left:413.20px;top:845.72px;width:120px">125</div>
<div class="c" style="left:413.20px;top:867.72px;width:120px">156</div>
<div class="c" style="left:413.20px;top:889.72px;width:120px">197</div>
<div class="c" style="left:413.20px;top:911.72px;width:120px">125</div>
<div class="c" style="left:413.20px;top:933.72px;width:120px">156</div>
<div class="c" style="left:413.20px;top:955.72px;width:120px">197</div>
<div class="c" style="left:413.20px;top:977.22px;width:120px">250</div>
<div class="c" style="left:476.70px;top:603.72px;width:120px">G 1 1/4"<sup class="s1s">1)</sup></div>
<div class="c" style="left:476.70px;top:636.72px;width:120px">G 1 1/2"<sup class="s1s">1)</sup></div>
<div class="c" style="left:476.70px;top:691.72px;width:120px">SAE 2"</div>
<div class="c" style="left:476.70px;top:746.72px;width:120px">SAE 2 1/2"</div>
<div class="c" style="left:476.70px;top:801.72px;width:120px">SAE 3"</div>
<div class="c" style="left:476.70px;top:900.72px;width:120px">SAE 3 1/2"</div>
<div class="c" style="left:476.70px;top:966.72px;width:120px">SAE 4"</div>
<div class="c" style="left:560.70px;top:603.72px;width:120px">G 1/2"<sup class="s1">1)</sup><sup class="s2a">2)</sup></div>
<div class="c" style="left:560.70px;top:636.72px;width:120px">G 3/4"<sup class="s1">1)</sup><sup class="s2a">2)</sup></div>
<div class="c" style="left:560.70px;top:691.72px;width:120px">SAE 1"</div>
<div class="c" style="left:560.70px;top:768.72px;width:120px">SAE 1 1/4"</div>
<div class="c" style="left:560.70px;top:856.72px;width:120px">SAE 1 1/2"</div>
<div class="c" style="left:560.70px;top:944.72px;width:120px">SAE 2"</div>
<div class="c" style="left:644.95px;top:614.72px;width:120px">G 1/2"<sup class="s1c">1)</sup><sup class="s2b">2)</sup></div>
<div class="c" style="left:644.95px;top:647.72px;width:120px">G 3/4"<sup class="s1b">1)</sup><sup class="s2b">2)</sup></div>
<div class="c" style="left:644.95px;top:669.72px;width:120px">G 1/2"<sup class="s1c">1)</sup><sup class="s2b">2)</sup></div>
<div class="c" style="left:644.95px;top:691.72px;width:120px">G 3/4"<sup class="s1b">1)</sup><sup class="s2b">2)</sup></div>
<div class="c" style="left:644.95px;top:713.72px;width:120px">SAE 1"</div>
<div class="c" style="left:644.95px;top:735.72px;width:120px">G 1/2"<sup class="s1c">1)</sup><sup class="s2b">2)</sup></div>
<div class="c" style="left:644.95px;top:757.72px;width:120px">G 3/4"<sup class="s1b">1)</sup><sup class="s2b">2)</sup></div>
<div class="c" style="left:644.95px;top:779.72px;width:120px">SAE 1"</div>
<div class="c" style="left:644.95px;top:801.72px;width:120px">SAE 1 1/4"</div>
<div class="c" style="left:644.95px;top:823.72px;width:120px">G 3/4"<sup class="s1">1)</sup></div>
<div class="c" style="left:644.95px;top:845.72px;width:120px">SAE 1"</div>
<div class="c" style="left:644.95px;top:867.72px;width:120px">SAE 1 1/4"</div>
<div class="c" style="left:644.95px;top:889.72px;width:120px">SAE 1 1/2"</div>
<div class="c" style="left:644.95px;top:911.72px;width:120px">SAE 1"</div>
<div class="c" style="left:644.95px;top:933.72px;width:120px">SAE 1 1/4"</div>
<div class="c" style="left:644.95px;top:955.72px;width:120px">SAE 1 1/2"</div>
<div class="c" style="left:644.95px;top:977.22px;width:120px">SAE 2"</div>
<div class="f" style="left:11.00px;top:1014.39px">1) threaded port to DIN 3852, Part 2</div>
<div class="f" style="left:11.00px;top:1027.69px">2) pressure port to SAE J518 code 61 / ISO 6162-1 can be supplied for pressure ranges 2+3</div>
</div></body></html>
